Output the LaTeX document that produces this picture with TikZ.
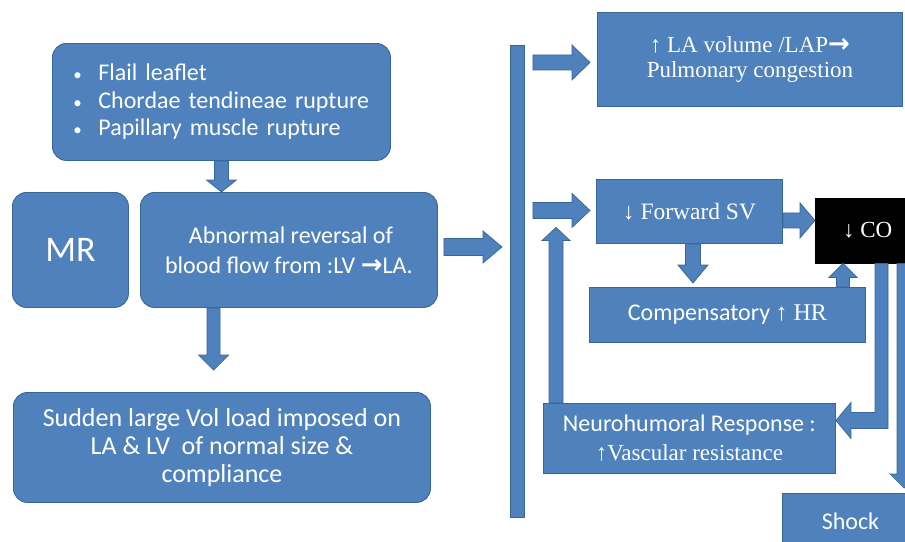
\documentclass[tikz,border=0pt]{standalone}
\usepackage{fontspec}
\setmainfont{Carlito}
\newfontfamily\tnr{Liberation Serif}
\newfontfamily\dvs{DejaVu Sans}
\usetikzlibrary{calc}
\definecolor{bfill}{HTML}{4F81BD}
\definecolor{bedge}{HTML}{3A6597}
\tikzset{
  rbox/.style={draw=bedge, fill=bfill, line width=0.9pt, rounded corners=14pt, text=white, inner sep=0pt, align=center},
  sbox/.style={draw=bedge, fill=bfill, line width=0.9pt, text=white, inner sep=0pt, align=center},
  barrow/.style={draw=bedge, fill=bfill, line width=0.7pt, line join=miter},
}
\newcommand\thickarr[1]{{\dvs\bfseries\fontsize{#1}{#1}\selectfont →}}
\newcommand\smallbullet{\makebox[25pt][l]{\fontsize{17pt}{17pt}\selectfont\textbullet}}
% vertical block arrow: start, tip, half shaft, half head, head length
\newcommand\varrow[5]{\path[barrow] let \p1=(#1), \p2=(#2), \n1={ifthenelse(\y2<\y1,1,-1)} in
  ({\x1-#3},\y1) -- ({\x1-#3},{\y2+\n1*#5}) -- ({\x1-#4},{\y2+\n1*#5}) -- (\x1,\y2) -- ({\x1+#4},{\y2+\n1*#5}) -- ({\x1+#3},{\y2+\n1*#5}) -- ({\x1+#3},\y1) -- cycle;}
% horizontal block arrow
\newcommand\harrow[5]{\path[barrow] let \p1=(#1), \p2=(#2), \n1={ifthenelse(\x2<\x1,1,-1)} in
  (\x1,{\y1-#3}) -- ({\x2+\n1*#5},{\y1-#3}) -- ({\x2+\n1*#5},{\y1-#4}) -- (\x2,\y1) -- ({\x2+\n1*#5},{\y1+#4}) -- ({\x2+\n1*#5},{\y1+#3}) -- (\x1,{\y1+#3}) -- cycle;}
\begin{document}
\begin{tikzpicture}[x=1pt,y=-1pt]
\useasboundingbox (0,0) rectangle (905,541);
\clip (0,0) rectangle (905,541);
\fill[white] (0,0) rectangle (905,541);

% left column
\node[rbox, anchor=north west, minimum width=338pt, minimum height=117pt, text width=296pt, align=left,
  font=\fontsize{24pt}{27.5pt}\selectfont] (causes) at (52,43)
  {\smallbullet Flail leaflet\\
   \smallbullet Chordae tendineae rupture\\
   \smallbullet Papillary muscle rupture};
\node[rbox, anchor=north west, minimum width=116pt, minimum height=115pt,
  font=\fontsize{36pt}{40pt}\selectfont] (mr) at (12,192) {MR};
\node[rbox, anchor=north west, minimum width=297pt, minimum height=115pt,
  font=\fontsize{24pt}{30pt}\selectfont] (abn) at (140,192)
  {\hspace{4pt}Abnormal reversal of\\blood flow from :LV \thickarr{26pt}LA.};
\node[rbox, anchor=north west, minimum width=417pt, minimum height=110pt,
  font=\fontsize{26pt}{28pt}\selectfont] (sud) at (13,392)
  {Sudden large Vol load imposed on\\LA \& LV\ \ of normal size \&\\compliance};

% vertical bar
\node[sbox, anchor=north west, minimum width=14pt, minimum height=472pt] (bar) at (510,45) {};

% right column
\node[sbox, anchor=north west, minimum width=305pt, minimum height=94pt,
  font=\tnr\fontsize{23pt}{25pt}\selectfont] (la) at (597,12)
  {↑ LA volume /LAP\thickarr{26pt}\\Pulmonary congestion};
\node[sbox, anchor=north west, minimum width=186pt, minimum height=64pt,
  font=\tnr\fontsize{23.5pt}{26pt}\selectfont] (sv) at (596,179) {↓ Forward SV};
\node[anchor=north west, fill=black, draw=black, text=white, inner sep=0pt, minimum width=105pt, minimum height=65pt,
  font=\tnr\fontsize{23pt}{26pt}\selectfont] (co) at (815,198) {↓ CO};
\node[sbox, anchor=north west, minimum width=276pt, minimum height=55pt,
  font=\fontsize{24pt}{28pt}\selectfont] (comp) at (589,287) {Compensatory {\tnr\fontsize{24pt}{28pt}\selectfont ↑ HR}};
\node[sbox, anchor=north west, minimum width=292pt, minimum height=70pt,
  font=\fontsize{24pt}{29pt}\selectfont] (neuro) at (543,403)
  {Neurohumoral Response :\\{\tnr\fontsize{23pt}{29pt}\selectfont ↑Vascular resistance}};
\node[sbox, anchor=north west, minimum width=136pt, minimum height=55pt,
  font=\fontsize{24pt}{28pt}\selectfont] (shock) at (782,493) {Shock};

% arrows
\varrow{causes.south}{causes.south |- abn.north}{7pt}{15pt}{12pt}
\coordinate (t2) at (213.5,370);
\varrow{t2 |- abn.south}{t2}{6.5pt}{15pt}{15pt}
\harrow{$(abn.east)+(6,-3)$}{$(bar.west |- abn.east)+(-8,-3)$}{8.5pt}{16pt}{19pt}
\harrow{$(bar.east |- la.west)+(8,3)$}{$(la.west)+(-7,3)$}{7.5pt}{17.5pt}{18pt}
\coordinate (svin) at ($(sv.west)+(-6,-1)$);
\harrow{$(bar.east |- svin)+(8,0)$}{svin}{8pt}{17pt}{18pt}
\varrow{$(neuro.north west)+(13,0)$}{$(svin)+(-34,17)$}{7pt}{14pt}{13pt}
\harrow{$(sv.east)+(0,9)$}{$(sv.east -| co.west)+(0,9)$}{7.5pt}{17.5pt}{15pt}
\varrow{$(sv.south)+(3.5,0)$}{$(comp.north -| sv.south)+(3.5,-4)$}{7.5pt}{15pt}{18pt}
\varrow{$(comp.north east)+(-23,0)$}{$(comp.north east |- co.south)+(-23,0)$}{6.5pt}{14pt}{14pt}
\varrow{$(co.south west)+(89,0)$}{$(shock.north west)+(122,-5)$}{7pt}{14pt}{14pt}
\path[barrow] let \p1=($(co.south west)+(60,0)$), \p2=($(neuro.east)+(0,-18)$) in
  (\x1,\y1) -- ({\x1+13pt},\y1) -- ({\x1+13pt},{\y2-8pt}) -- ({\x2+15pt},{\y2-8pt}) -- ({\x2+15pt},{\y2-18pt})
  -- (\x2,\y2) -- ({\x2+15pt},{\y2+18pt}) -- ({\x2+15pt},{\y2+8pt}) -- (\x1,{\y2+8pt}) -- cycle;
\end{tikzpicture}
\end{document}
